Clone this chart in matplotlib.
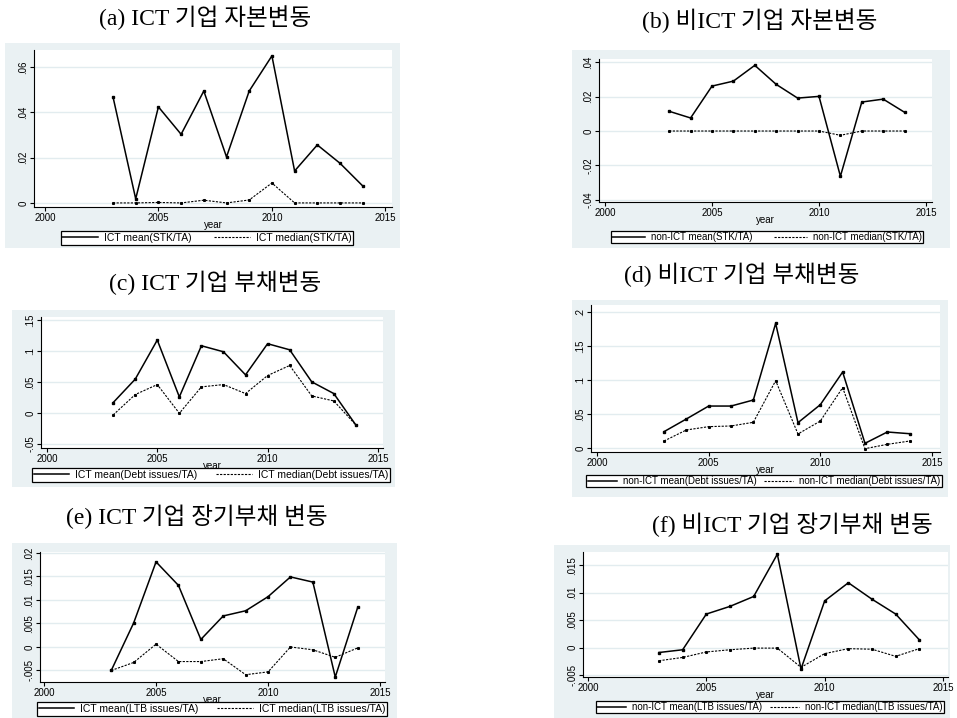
import matplotlib
matplotlib.use('Agg')
import matplotlib.pyplot as plt
from matplotlib.patches import Rectangle
from matplotlib.lines import Line2D

plt.rcParams['font.family'] = ['Liberation Sans', 'DejaVu Sans']

years = [2003, 2004, 2005, 2006, 2007, 2008, 2009, 2010, 2011, 2012, 2013, 2014]
xticks = [2000, 2005, 2010, 2015]

titles = ['(a) ICT 기업 자본변동', '(b) 비ICT 기업 자본변동',
          '(c) ICT 기업 부채변동', '(d) 비ICT 기업 부채변동',
          '(e) ICT 기업 장기부채 변동', '(f) 비ICT 기업 장기부채 변동']

ict_stk_mean = [0.0468, 0.0018, 0.0424, 0.0303, 0.0494, 0.0203, 0.0494, 0.0649, 0.0141, 0.0256, 0.0175, 0.0075]
ict_stk_median = [0.0, 0.0, 0.0002, 0.0, 0.0012, 0.0, 0.0013, 0.0088, 0.0, 0.0, 0.0, 0.0]
non_stk_mean = [0.0115, 0.0076, 0.0262, 0.0291, 0.0383, 0.0272, 0.0192, 0.0202, -0.0264, 0.0169, 0.0186, 0.0109]
non_stk_median = [0.0, 0.0, 0.0, 0.0, 0.0, 0.0, 0.0, 0.0, -0.0025, 0.0, 0.0, 0.0]
ict_debt_mean = [0.0167, 0.0545, 0.1176, 0.0259, 0.1084, 0.0987, 0.0615, 0.1117, 0.1019, 0.0502, 0.0313, -0.0194]
ict_debt_median = [-0.0032, 0.0297, 0.0458, -0.0005, 0.0421, 0.0458, 0.0313, 0.0604, 0.0766, 0.0275, 0.0194, -0.0194]
non_debt_mean = [0.0241, 0.0428, 0.0619, 0.0619, 0.0708, 0.1839, 0.0374, 0.0639, 0.1121, 0.0069, 0.0236, 0.0211]
non_debt_median = [0.0103, 0.0266, 0.0315, 0.0325, 0.0379, 0.0993, 0.0207, 0.0398, 0.0890, -0.0010, 0.0054, 0.0103]
ict_ltb_mean = [-0.0050, 0.0051, 0.0181, 0.0131, 0.0016, 0.0066, 0.0077, 0.0107, 0.0149, 0.0138, -0.0064, 0.0084]
ict_ltb_median = [-0.0050, -0.0033, 0.0006, -0.0031, -0.0031, -0.0025, -0.0059, -0.0053, 0.0, -0.0006, -0.0022, -0.0002]
non_ltb_mean = [-0.0009, -0.0004, 0.0061, 0.0075, 0.0093, 0.0170, -0.0039, 0.0085, 0.0118, 0.0088, 0.0061, 0.0014]
non_ltb_median = [-0.0024, -0.0018, -0.0008, -0.0004, -0.0001, -0.0001, -0.0036, -0.0011, -0.0002, -0.0003, -0.0016, -0.0002]

labels_mean = ['ICT mean(STK/TA)', 'non-ICT mean(STK/TA)',
               'ICT mean(Debt issues/TA)', 'non-ICT mean(Debt issues/TA)',
               'ICT mean(LTB issues/TA)', 'non-ICT mean(LTB issues/TA)']
labels_median = ['ICT median(STK/TA)', 'non-ICT median(STK/TA)',
                 'ICT median(Debt issues/TA)', 'non-ICT median(Debt issues/TA)',
                 'ICT median(LTB issues/TA)', 'non-ICT median(LTB issues/TA)']

yticks_a = [0, .02, .04, .06]
ylabels_a = ['0', '.02', '.04', '.06']
yticks_b = [-.04, -.02, 0, .02, .04]
ylabels_b = ['-.04', '-.02', '0', '.02', '.04']
yticks_c = [-.05, 0, .05, .1, .15]
ylabels_c = ['-.05', '0', '.05', '.1', '.15']
yticks_d = [0, .05, .1, .15, .2]
ylabels_d = ['0', '.05', '.1', '.15', '.2']
yticks_e = [-.005, 0, .005, .01, .015, .02]
ylabels_e = ['-.005', '0', '.005', '.01', '.015', '.02']
yticks_f = [-.005, 0, .005, .01, .015]
ylabels_f = ['-.005', '0', '.005', '.01', '.015']

means = [ict_stk_mean, non_stk_mean, ict_debt_mean, non_debt_mean, ict_ltb_mean, non_ltb_mean]
medians = [ict_stk_median, non_stk_median, ict_debt_median, non_debt_median, ict_ltb_median, non_ltb_median]
ytick_sets = [yticks_a, yticks_b, yticks_c, yticks_d, yticks_e, yticks_f]
ylabel_sets = [ylabels_a, ylabels_b, ylabels_c, ylabels_d, ylabels_e, ylabels_f]

# layout in pixels (left, top, right, bottom)
W, H = 957, 718
BG = '#eaf1f3'
GRID = '#e2ecef'
title_xy = [(205, 18), (760, 21), (215, 283), (742, 275), (197, 517), (792, 525)]
bg_boxes = [(5, 43, 400, 248), (572, 50, 950, 248), (12, 310, 395, 487),
            (572, 300, 948, 497), (12, 543, 397, 718), (554, 545, 950, 718)]
ax_boxes = [(34, 50, 392, 207), (599, 59, 932, 202), (41, 317, 383, 448),
            (591, 305, 940, 452), (40, 552, 385, 682), (583, 552, 948, 677)]
xlims = [(1999.52, 2015.29), (1999.72, 2015.28), (1999.73, 2015.23),
         (1999.73, 2015.36), (1999.82, 2015.22), (1999.79, 2015.21)]
ylims = [(-0.0018, 0.0675), (-0.0414, 0.042), (-0.0565, 0.1548),
         (-0.0059, 0.211), (-0.00745, 0.0202), (-0.00536, 0.0174)]
legend_xy = [(207, 238), (767, 237), (211, 475), (764, 481), (212, 709), (770, 707)]
legend_fs = [7.5, 7, 7.5, 7, 7.5, 7]
legend_colsp = [2.2, 2.2, 1.8, 0.8, 1.8, 0.8]
legend_hl = [3.4, 3.4, 3.4, 3.0, 3.4, 3.0]


def fbox(l, t, r, b):
    return [l / W, 1 - b / H, (r - l) / W, (b - t) / H]


fig = plt.figure(figsize=(9.57, 7.18), dpi=100)

for i in range(6):
    l, t, r, b = bg_boxes[i]
    fig.patches.append(Rectangle((l / W, 1 - b / H), (r - l) / W, (b - t) / H,
                                 transform=fig.transFigure, facecolor=BG,
                                 edgecolor='none', zorder=-1))
    tx, ty = title_xy[i]
    fig.text(tx / W, 1 - ty / H, titles[i], ha='center', va='center', fontsize=17,
             family=['Liberation Serif', 'Noto Sans CJK KR'])

    ax = fig.add_axes(fbox(*ax_boxes[i]))
    ax.set_facecolor('white')
    ax.plot(years, means[i], color='black', lw=1.1, marker='s', ms=1.5, zorder=3)
    ax.plot(years, medians[i], color='black', lw=0.8, ls=(0, (2, 1.2)),
            marker='s', ms=1.2, zorder=3)

    ax.set_xlim(*xlims[i])
    ax.set_ylim(*ylims[i])
    ax.set_xticks(xticks)
    ax.set_xticklabels([str(x) for x in xticks])
    ax.set_yticks(ytick_sets[i])
    ax.set_yticklabels(ylabel_sets[i], rotation=90, va='center')
    for yv in ytick_sets[i]:
        ax.axhline(yv, color=GRID, lw=1.0, zorder=1)

    for s in ['top', 'right']:
        ax.spines[s].set_visible(False)
    for s in ['left', 'bottom']:
        ax.spines[s].set_linewidth(0.8)
        ax.spines[s].set_color('black')
    ax.tick_params(direction='out', length=3, width=0.8, labelsize=7, pad=1)
    ax.set_xlabel('year', fontsize=7, labelpad=-1.5)

    handles = [Line2D([], [], color='black', lw=1.1),
               Line2D([], [], color='black', lw=0.8, ls=(0, (2, 1.2)))]
    lx, ly = legend_xy[i]
    leg = ax.legend(handles, [labels_mean[i], labels_median[i]], loc='center',
                    bbox_to_anchor=(lx / W, 1 - ly / H), bbox_transform=fig.transFigure,
                    ncol=2, fontsize=legend_fs[i], frameon=True, fancybox=False,
                    edgecolor='black', framealpha=1, handlelength=legend_hl[i],
                    borderpad=0.15, columnspacing=legend_colsp[i], handletextpad=0.6)
    leg.get_frame().set_linewidth(0.9)

fig.savefig('out.png', dpi=100)
